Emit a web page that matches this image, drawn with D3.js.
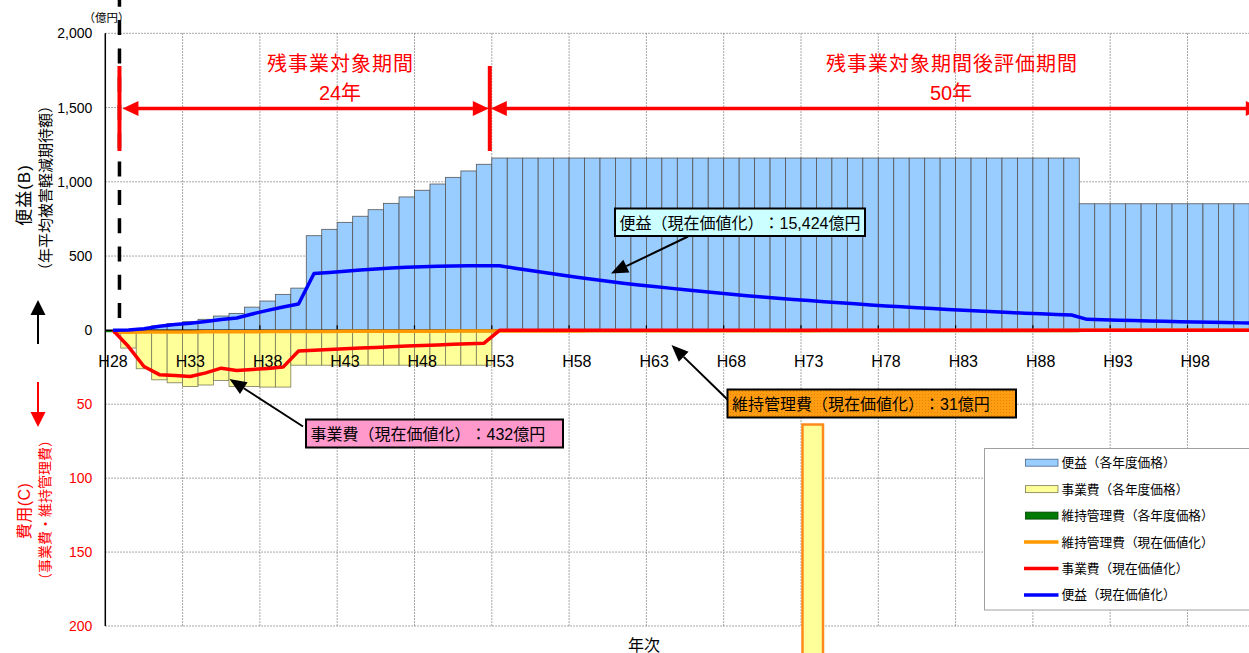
<!DOCTYPE html>
<html>
<head>
<meta charset="utf-8">
<script src="https://cdn.jsdelivr.net/npm/d3@7"></script>
<style>
  html, body { margin: 0; padding: 0; background: #fff; }
  svg { display: block; }
  text { font-family: 'Liberation Sans', 'Noto Sans CJK JP', sans-serif; text-spacing-trim: space-all; }
</style>
</head>
<body>
<svg id="chart" width="1249" height="653"></svg>
<script>
// ---- data -------------------------------------------------------------
const years = d3.range(28, 103).map(n => "H" + n);          // H28 … H102
const tickYears = ["H28","H33","H38","H43","H48","H53","H58","H63","H68","H73","H78","H83","H88","H93","H98"];
const benefitTicks = [0, 500, 1000, 1500, 2000];
const costTicks = [50, 100, 150, 200];

// 便益（各年度価格） 億円/年
const benefitNominal = [
  0, 2, 12, 30, 46, 58, 74, 96, 114, 156, 197, 242, 284,
  637, 680, 727, 768, 812, 855, 898, 943, 985, 1030, 1073, 1118,
  1160, 1160, 1160, 1160, 1160, 1160, 1160, 1160, 1160, 1160,
  1160, 1160, 1160, 1160, 1160, 1160, 1160, 1160, 1160, 1160,
  1160, 1160, 1160, 1160, 1160, 1160, 1160, 1160, 1160, 1160,
  1160, 1160, 1160, 1160, 1160, 1160, 1160, 1160,
  852, 852, 852, 852, 852, 852, 852, 852, 852, 852, 852, 852
];
// 便益（現在価値化） 合計 15,424億円
const benefitPV = [
  0, 2, 11, 27, 39, 48, 59, 73, 83, 110, 134, 157, 177,
  382, 389, 398, 406, 413, 419, 424, 428, 431, 433, 434, 435,
  435, 418, 402, 387, 372, 357, 344, 330, 317, 305,
  295, 284, 273, 263, 253, 243, 233, 224, 216, 208,
  200, 192, 185, 178, 171, 164, 158, 152, 146, 140,
  135, 130, 125, 120, 115, 111, 107, 103,
  74, 71, 68, 66, 63, 61, 58, 56, 54, 52, 50, 48
];
// 事業費（各年度価格）
const costNominal = [
  0, 12, 26, 33.5, 35.5, 38, 37, 34, 38, 38, 38.4, 38.4,
  23.6, 23.6, 23.6, 23.6, 23.6, 23.6, 23.6, 23.6, 23.6, 23.6, 23.6, 23.6, 23.6,
  0, 0, 0, 0, 0, 0, 0, 0, 0, 0, 0, 0, 0, 0, 0, 0, 0, 0, 0, 0, 0, 0, 0, 0, 0,
  0, 0, 0, 0, 0, 0, 0, 0, 0, 0, 0, 0, 0, 0, 0, 0, 0, 0, 0, 0, 0, 0, 0, 0, 0
];
// 事業費（現在価値化） 合計 432億円
const costPV = [
  0, 11.0, 24.5, 30.0, 30.6, 31.2, 28.8, 25.6, 27.2, 26.5, 25.8, 24.9,
  14.0, 13.5, 13.0, 12.5, 12.0, 11.6, 11.1, 10.7, 10.3, 9.9, 9.5, 9.1, 8.7,
  0, 0, 0, 0, 0, 0, 0, 0, 0, 0, 0, 0, 0, 0, 0, 0, 0, 0, 0, 0, 0, 0, 0, 0, 0,
  0, 0, 0, 0, 0, 0, 0, 0, 0, 0, 0, 0, 0, 0, 0, 0, 0, 0, 0, 0, 0, 0, 0, 0, 0
];
// 維持管理費（各年度価格）
const maintNominal = [
  1.3, 1.3, 1.3, 1.3, 1.3, 1.3, 1.3, 1.3, 1.3, 1.3, 1.3, 1.3, 1.3, 1.3, 1.3, 1.3,
  1.3, 1.3, 1.3, 1.3, 1.3, 1.3, 1.3, 1.3, 1.3, 1.3, 1.3, 1.3, 1.3, 1.3, 1.3, 1.3,
  1.3, 1.3, 1.3, 1.3, 1.3, 1.3, 1.3, 1.3, 1.3, 1.3, 1.3, 1.3, 1.3, 1.3, 1.3, 1.3,
  1.3, 1.3, 1.3, 1.3, 1.3, 1.3, 1.3, 1.3, 1.3, 1.3, 1.3, 1.3, 1.3, 1.3, 1.3,
  0, 0, 0, 0, 0, 0, 0, 0, 0, 0, 0, 0
];
// 維持管理費（現在価値化） 合計 31億円
const maintPV = [
  1.30, 1.25, 1.20, 1.16, 1.11, 1.07, 1.03, 0.99, 0.95, 0.91,
  0.88, 0.85, 0.81, 0.78, 0.75, 0.72, 0.69, 0.67, 0.64, 0.62,
  0.59, 0.57, 0.55, 0.53, 0.51, 0.49, 0.47, 0.45, 0.43, 0.41,
  0.40, 0.38, 0.37, 0.35, 0.34, 0.33, 0.31, 0.30, 0.29, 0.28,
  0.27, 0.26, 0.25, 0.24, 0.23, 0.22, 0.21, 0.20, 0.19, 0.19,
  0.18, 0.17, 0.16, 0.16, 0.15, 0.15, 0.14, 0.13, 0.13, 0.12,
  0.12, 0.11, 0.11,
  0, 0, 0, 0, 0, 0, 0, 0, 0, 0, 0, 0
];

const legendItems = [
  { label: "便益（各年度価格）", type: "bar", fill: "#99ccff", stroke: "#4a6a8a" },
  { label: "事業費（各年度価格）", type: "bar", fill: "#ffff99", stroke: "#7a7a50" },
  { label: "維持管理費（各年度価格）", type: "bar", fill: "#007a00", stroke: "#004000" },
  { label: "維持管理費（現在価値化）", type: "line", stroke: "#ff9900" },
  { label: "事業費（現在価値化）", type: "line", stroke: "#ff0000" },
  { label: "便益（現在価値化）", type: "line", stroke: "#0000ff" }
];

// ---- scales -----------------------------------------------------------
const svg = d3.select("#chart");
const plotLeft = 105.3, bandW = 15.46;
const x = d3.scaleBand().domain(years)
  .range([plotLeft, plotLeft + bandW * years.length]).padding(0);
const bw = x.bandwidth();
const cx = d => x(d) + bw / 2;
const yB = d3.scaleLinear().domain([0, 2000]).range([330.3, 33.3]);   // 便益 (up)
const yC = d3.scaleLinear().domain([0, 200]).range([330.3, 626]);     // 費用 (down)
const plotTop = yB(2000), plotBottom = yC(200), plotRight = x.range()[1];
const y0 = yB(0);

// ---- grid -------------------------------------------------------------
const grid = svg.append("g");
const hLines = benefitTicks.filter(v => v > 0).map(v => yB(v)).concat(costTicks.map(v => yC(v)));
grid.selectAll("line.h").data(hLines).join("line")
  .attr("x1", plotLeft).attr("x2", plotRight)
  .attr("y1", d => d).attr("y2", d => d)
  .attr("stroke", "#8a8a8a").attr("stroke-width", 1).attr("stroke-dasharray", "1.5,1.5");
const vIdx = d3.range(5, years.length, 5);
grid.selectAll("line.v").data(vIdx).join("line")
  .attr("x1", i => x(years[i])).attr("x2", i => x(years[i]))
  .attr("y1", plotTop).attr("y2", plotBottom)
  .attr("stroke", "#8a8a8a").attr("stroke-width", 1).attr("stroke-dasharray", "1.5,1.5");

// ---- bars -------------------------------------------------------------
svg.append("g").selectAll("rect").data(years.map((d, i) => [d, benefitNominal[i]]).filter(d => d[1] > 0))
  .join("rect")
  .attr("x", d => x(d[0])).attr("width", bw)
  .attr("y", d => yB(d[1])).attr("height", d => y0 - yB(d[1]))
  .attr("fill", "#99ccff").attr("stroke", "#555").attr("stroke-width", 0.8);

svg.append("g").selectAll("rect").data(years.map((d, i) => [d, costNominal[i]]).filter(d => d[1] > 0))
  .join("rect")
  .attr("x", d => x(d[0])).attr("width", bw)
  .attr("y", y0).attr("height", d => yC(d[1]) - y0)
  .attr("fill", "#ffff99").attr("stroke", "#7a7a5a").attr("stroke-width", 0.8);

svg.append("g").selectAll("rect").data(years.map((d, i) => [d, maintNominal[i]]).filter(d => d[1] > 0))
  .join("rect")
  .attr("x", d => x(d[0])).attr("width", bw)
  .attr("y", y0).attr("height", d => yC(d[1]) - y0)
  .attr("fill", "#007a00");

// ---- axes -------------------------------------------------------------
svg.append("line").attr("x1", plotLeft).attr("x2", plotRight).attr("y1", y0).attr("y2", y0)
  .attr("stroke", "#000").attr("stroke-width", 1.5);
svg.append("line").attr("x1", plotLeft).attr("x2", plotLeft).attr("y1", plotTop).attr("y2", plotBottom)
  .attr("stroke", "#000").attr("stroke-width", 1.5);
svg.append("g").selectAll("line").data(vIdx).join("line")
  .attr("x1", i => x(years[i])).attr("x2", i => x(years[i]))
  .attr("y1", y0 - 5).attr("y2", y0).attr("stroke", "#000").attr("stroke-width", 1.2);

const axB = svg.append("g").attr("transform", `translate(${plotLeft},0)`)
  .call(d3.axisLeft(yB).tickValues(benefitTicks).tickFormat(d3.format(",")).tickSize(0).tickPadding(13));
axB.select(".domain").remove();
axB.selectAll("text").attr("font-size", 14).attr("fill", "#000")
  .style("font-family", "'Liberation Sans', sans-serif");
const axC = svg.append("g").attr("transform", `translate(${plotLeft},0)`)
  .call(d3.axisLeft(yC).tickValues(costTicks).tickSize(0).tickPadding(13));
axC.select(".domain").remove();
axC.selectAll("text").attr("font-size", 14).attr("fill", "#ff0000")
  .style("font-family", "'Liberation Sans', sans-serif");

svg.append("g").selectAll("text").data(tickYears).join("text")
  .attr("x", d => cx(d)).attr("y", 366.5)
  .attr("text-anchor", "middle").attr("font-size", 16).attr("fill", "#000")
  .text(d => d);

svg.append("text").attr("x", 644).attr("y", 651).attr("text-anchor", "middle")
  .attr("font-size", 16).text("年次");
svg.append("text").attr("x", 106.5).attr("y", 21.5).attr("text-anchor", "middle")
  .attr("font-size", 11.5).text("（億円）");

// axis titles
function vText(xp, yp, size, color, str, ls) {
  svg.append("text").attr("transform", `translate(${xp},${yp}) rotate(-90)`)
    .attr("text-anchor", "middle").attr("dominant-baseline", "central")
    .attr("font-size", size).attr("fill", color)
    .style("letter-spacing", ls + "px").text(str);
}
vText(24, 195, 17, "#000", "便益(B)", 1);
vText(45, 188, 15, "#000", "（年平均被害軽減期待額）", 0);
vText(24, 511, 16, "#ff0000", "費用(C)", 0.5);
vText(45, 510, 14, "#ff0000", "（事業費・維持管理費）", 0);

// up / down arrows beside the axis titles
svg.append("line").attr("x1", 38).attr("x2", 38).attr("y1", 344).attr("y2", 312)
  .attr("stroke", "#000").attr("stroke-width", 2);
svg.append("path").attr("d", "M38,300 L45.5,315 L30.5,315 Z").attr("fill", "#000");
svg.append("line").attr("x1", 38).attr("x2", 38).attr("y1", 382).attr("y2", 414)
  .attr("stroke", "#ff0000").attr("stroke-width", 2);
svg.append("path").attr("d", "M38,427 L45.5,412 L30.5,412 Z").attr("fill", "#ff0000");

// ---- lines ------------------------------------------------------------
const lineGen = (vals, ys) => d3.line().x((d, i) => cx(years[i])).y(d => ys(d))(vals);
svg.append("path").attr("d", lineGen(maintPV, yC)).attr("fill", "none")
  .attr("stroke", "#ff9900").attr("stroke-width", 3.5).attr("stroke-linejoin", "round");
svg.append("path").attr("d", lineGen(costPV, yC)).attr("fill", "none")
  .attr("stroke", "#ff0000").attr("stroke-width", 3.5).attr("stroke-linejoin", "round");
svg.append("path").attr("d", lineGen(benefitPV, yB)).attr("fill", "none")
  .attr("stroke", "#0000ff").attr("stroke-width", 3.5).attr("stroke-linejoin", "round");

// ---- period markers ---------------------------------------------------
const startX = x("H29") - 1.3;          // start of remaining works
const splitX = x("H53") - 2;            // end of 24-year period
const endX = plotRight - 3;
svg.append("line").attr("x1", startX).attr("x2", startX).attr("y1", -8.2).attr("y2", 329)
  .attr("stroke", "#000").attr("stroke-width", 3.5).attr("stroke-dasharray", "15,13.3");

const red = "#ff0000";
const arrowY = yB(1500) + 1;
[startX, splitX].forEach(px => svg.append("line").attr("x1", px).attr("x2", px)
  .attr("y1", 66).attr("y2", 151).attr("stroke", red).attr("stroke-width", 4));
function head(tip, dir) {   // horizontal arrowhead, dir = +1 right / -1 left
  const b = tip - dir * 16;
  return `M${tip},${arrowY} L${b},${arrowY - 7.5} L${b},${arrowY + 7.5} Z`;
}
svg.append("line").attr("x1", startX + 10).attr("x2", splitX - 10).attr("y1", arrowY).attr("y2", arrowY)
  .attr("stroke", red).attr("stroke-width", 3.5);
svg.append("line").attr("x1", splitX + 10).attr("x2", endX - 10).attr("y1", arrowY).attr("y2", arrowY)
  .attr("stroke", red).attr("stroke-width", 3.5);
[[startX + 3, -1], [splitX - 1, 1], [splitX + 1, -1], [endX, 1]].forEach(([t, d]) =>
  svg.append("path").attr("d", head(t, d)).attr("fill", red));

function redLabel(xp, yp, str, ls) {
  svg.append("text").attr("x", xp).attr("y", yp).attr("text-anchor", "middle")
    .attr("font-size", 20).attr("fill", red).style("letter-spacing", ls + "px").text(str);
}
redLabel(340.5, 71, "残事業対象期間", 1);
redLabel(340, 100, "24年", 0);
redLabel(952, 71, "残事業対象期間後評価期間", 1);
redLabel(951, 100, "50年", 0);

// ---- call-out boxes ---------------------------------------------------
const defs = svg.append("defs");
const pat = defs.append("pattern").attr("id", "dots").attr("patternUnits", "userSpaceOnUse")
  .attr("width", 3).attr("height", 3);
pat.append("rect").attr("width", 3).attr("height", 3).attr("fill", "#ff9c12");
pat.append("rect").attr("x", 1).attr("y", 1).attr("width", 1).attr("height", 1).attr("fill", "#e08600");

function pointer(x1, y1, tx, ty) {
  const a = Math.atan2(ty - y1, tx - x1), L = 17, H = 7;
  const bx = tx - L * Math.cos(a), by = ty - L * Math.sin(a);
  svg.append("line").attr("x1", x1).attr("y1", y1).attr("x2", bx).attr("y2", by)
    .attr("stroke", "#000").attr("stroke-width", 2);
  svg.append("path").attr("fill", "#000").attr("d",
    `M${tx},${ty} L${bx + H * Math.sin(a)},${by - H * Math.cos(a)} L${bx - H * Math.sin(a)},${by + H * Math.cos(a)} Z`);
}
function callout(bx, by, w, h, fill, str) {
  svg.append("rect").attr("x", bx).attr("y", by).attr("width", w).attr("height", h)
    .attr("fill", fill).attr("stroke", "#000").attr("stroke-width", 2);
  svg.append("text").attr("x", bx + 4.5).attr("y", by + h / 2 + 1)
    .attr("dominant-baseline", "central").attr("font-size", 16).attr("fill", "#000").text(str);
}
pointer(688, 236.5, 611, 273.5);
callout(615, 208.5, 250, 27.5, "#ccffff", "便益（現在価値化）：15,424億円");
pointer(303, 426.5, 229.5, 379);
callout(306, 419.5, 257, 28, "#ff99cc", "事業費（現在価値化）：432億円");
pointer(728, 400, 671.5, 345);
callout(727.5, 389.5, 288.5, 28, "url(#dots)", "維持管理費（現在価値化）：31億円");

svg.append("rect").attr("x", 802.5).attr("y", 424.5).attr("width", 20.5).attr("height", 240)
  .attr("fill", "#ffff99").attr("stroke", "#ff8a1a").attr("stroke-width", 2.5);

// ---- legend -----------------------------------------------------------
const lg = svg.append("g");
lg.append("rect").attr("x", 984.5).attr("y", 448.5).attr("width", 300).attr("height", 161.5)
  .attr("fill", "#fff").attr("stroke", "#a0a0a0").attr("stroke-width", 1);
legendItems.forEach((it, i) => {
  const ry = 462.7 + i * 26.45;
  if (it.type === "bar") {
    lg.append("rect").attr("x", 1025.5).attr("y", ry - 3.5).attr("width", 32.5).attr("height", 7)
      .attr("fill", it.fill).attr("stroke", it.stroke).attr("stroke-width", 0.8);
  } else {
    lg.append("line").attr("x1", 1024).attr("x2", 1058.5).attr("y1", ry).attr("y2", ry)
      .attr("stroke", it.stroke).attr("stroke-width", 3.5);
  }
  lg.append("text").attr("x", 1061.5).attr("y", ry + 0.5).attr("dominant-baseline", "central")
    .attr("font-size", 12.7).attr("fill", "#000").text(it.label);
});
</script>
</body>
</html>
